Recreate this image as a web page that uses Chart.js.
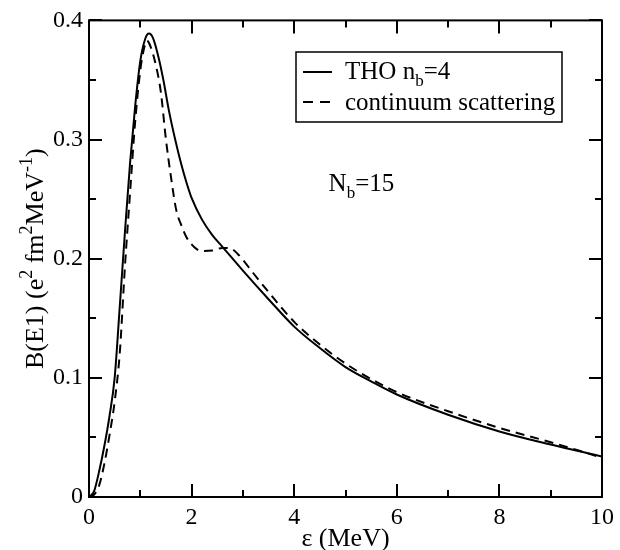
<!DOCTYPE html>
<html>
<head>
<meta charset="utf-8">
<script src="https://cdn.jsdelivr.net/npm/chart.js@4.4.1/dist/chart.umd.min.js"></script>
<style>
  html, body { margin: 0; padding: 0; background: #fff; }
  #wrap { width: 620px; height: 550px; }
</style>
</head>
<body>
<div id="wrap"><canvas id="c" width="620" height="550"></canvas></div>
<script>
// Excitation energy (MeV) and B(E1) distribution, THO basis with n_b = 4
const thoE = [0, 0.1, 0.2, 0.3, 0.4, 0.5, 0.6, 0.7, 0.8, 0.9, 1.0, 1.1, 1.17, 1.25, 1.35, 1.45, 1.55, 1.68, 1.8, 1.9, 2.0, 2.2, 2.4, 2.6, 2.8, 3.0, 3.5, 4.0, 4.5, 5.0, 5.5, 6.0, 7.0, 8.0, 9.0, 10.0];
const thoB = [0, 0.005, 0.022, 0.043, 0.068, 0.1, 0.16, 0.222, 0.28, 0.328, 0.366, 0.385, 0.389, 0.385, 0.37, 0.35, 0.326, 0.300, 0.279, 0.264, 0.251, 0.233, 0.220, 0.210, 0.200, 0.190, 0.166, 0.143, 0.125, 0.109, 0.097, 0.086, 0.069, 0.055, 0.044, 0.034];

// Same distribution from continuum scattering states
const contE = [0, 0.1, 0.2, 0.3, 0.4, 0.5, 0.6, 0.7, 0.8, 0.9, 1.0, 1.07, 1.13, 1.2, 1.3, 1.4, 1.5, 1.6, 1.7, 1.8, 1.9, 2.0, 2.1, 2.2, 2.4, 2.6, 2.75, 2.9, 3.0, 3.2, 3.5, 4.0, 4.5, 5.0, 5.5, 6.0, 7.0, 8.0, 9.0, 10.0];
const contB = [0, 0.002, 0.01, 0.028, 0.052, 0.08, 0.121, 0.193, 0.255, 0.315, 0.358, 0.376, 0.383, 0.378, 0.363, 0.34, 0.3, 0.268, 0.241, 0.228, 0.218, 0.212, 0.208, 0.2065, 0.2068, 0.209, 0.2088, 0.204, 0.199, 0.188, 0.172, 0.147, 0.128, 0.112, 0.099, 0.088, 0.072, 0.058, 0.046, 0.033];

// Axis ranges and tick labels
const xTicks = [0, 2, 4, 6, 8, 10];
const yTicks = [0, 0.1, 0.2, 0.3, 0.4];
const yTickLabels = ['0', '0.1', '0.2', '0.3', '0.4'];

const seriesNames = ['THO n_b=4', 'continuum scattering'];

const SERIF = '"Liberation Serif", "Times New Roman", serif';

function pts(xs, ys) { return xs.map((x, i) => ({ x: x, y: ys[i] })); }

// Draw text made of normal / subscript / superscript pieces
function richWidth(ctx, parts, size) {
  let w = 0;
  parts.forEach(p => {
    ctx.font = ((p.sub || p.sup) ? Math.round(size * 0.68) : size) + 'px ' + SERIF;
    w += ctx.measureText(p.t).width;
  });
  return w;
}
function drawRich(ctx, parts, x, y, size, align) {
  let cx = x;
  if (align === 'center') cx = x - richWidth(ctx, parts, size) / 2;
  ctx.textAlign = 'left';
  ctx.textBaseline = 'alphabetic';
  parts.forEach(p => {
    const s = (p.sub || p.sup) ? Math.round(size * 0.68) : size;
    ctx.font = s + 'px ' + SERIF;
    const dy = p.sub ? size * 0.28 : (p.sup ? -size * 0.42 : 0);
    ctx.fillText(p.t, cx, y + dy);
    cx += ctx.measureText(p.t).width;
  });
}

const framePlugin = {
  id: 'framePlugin',
  afterDatasetsDraw(chart) {
    const ctx = chart.ctx;
    const a = chart.chartArea;
    const xs = chart.scales.x, ys = chart.scales.y;
    ctx.save();
    ctx.strokeStyle = '#000';
    ctx.fillStyle = '#000';
    ctx.lineWidth = 2;
    ctx.lineCap = 'butt';

    // frame
    ctx.strokeRect(a.left, a.top, a.right - a.left, a.bottom - a.top);

    // inward ticks on all four sides
    const major = 13, minor = 7;
    ctx.beginPath();
    for (let v = 0; v <= 10; v += 1) {
      const px = Math.round(xs.getPixelForValue(v));
      const len = (v % 2 === 0) ? major : minor;
      ctx.moveTo(px, a.bottom); ctx.lineTo(px, a.bottom - len);
      ctx.moveTo(px, a.top); ctx.lineTo(px, a.top + len);
    }
    for (let k = 0; k <= 8; k++) {
      const v = k * 0.05;
      const py = Math.round(ys.getPixelForValue(v));
      const len = (k % 2 === 0) ? major : minor;
      ctx.moveTo(a.left, py); ctx.lineTo(a.left + len, py);
      ctx.moveTo(a.right, py); ctx.lineTo(a.right - len, py);
    }
    ctx.stroke();

    // legend box
    const lx = 296, ly = 52, lw = 266, lh = 70;
    ctx.lineWidth = 1.5;
    ctx.strokeRect(lx, ly, lw, lh);
    ctx.lineWidth = 2;
    ctx.beginPath();
    ctx.moveTo(303, 72); ctx.lineTo(332, 72);
    ctx.stroke();
    ctx.setLineDash([10, 7]);
    ctx.beginPath();
    ctx.moveTo(303, 102); ctx.lineTo(331, 102);
    ctx.stroke();
    ctx.setLineDash([]);
    drawRich(ctx, [{ t: 'THO n' }, { t: 'b', sub: true }, { t: '=4' }], 345, 79, 25, 'left');
    drawRich(ctx, [{ t: seriesNames[1] }], 345, 110, 25, 'left');

    // basis size annotation
    drawRich(ctx, [{ t: 'N' }, { t: 'b', sub: true }, { t: '=15' }],
      xs.getPixelForValue(4.67), ys.getPixelForValue(0.257), 25, 'left');

    // axis titles
    drawRich(ctx, [{ t: 'ε (MeV)' }], (a.left + a.right) / 2, 546, 26, 'center');
    ctx.save();
    ctx.translate(43, (a.top + a.bottom) / 2);
    ctx.rotate(-Math.PI / 2);
    drawRich(ctx, [
      { t: 'B(E1) (e' }, { t: '2', sup: true }, { t: ' fm' }, { t: '2', sup: true },
      { t: 'MeV' }, { t: '-1', sup: true }, { t: ')' }
    ], 0, 0, 26, 'center');
    ctx.restore();

    ctx.restore();
  }
};

new Chart(document.getElementById('c'), {
  type: 'scatter',
  data: {
    datasets: [
      {
        label: seriesNames[0],
        data: pts(thoE, thoB),
        showLine: true,
        borderColor: '#000',
        borderWidth: 2,
        pointRadius: 0,
        cubicInterpolationMode: 'monotone'
      },
      {
        label: seriesNames[1],
        data: pts(contE, contB),
        showLine: true,
        borderColor: '#000',
        borderWidth: 2,
        borderDash: [9, 6],
        pointRadius: 0,
        cubicInterpolationMode: 'monotone'
      }
    ]
  },
  options: {
    responsive: false,
    animation: false,
    devicePixelRatio: 1,
    layout: { padding: { left: 0, right: 15, top: 16, bottom: 0 } },
    plugins: { legend: { display: false }, tooltip: { enabled: false } },
    scales: {
      x: {
        type: 'linear',
        min: 0, max: 10,
        afterFit(s) { s.height = 53; },
        afterBuildTicks(s) { s.ticks = xTicks.map(v => ({ value: v })); },
        grid: { display: false, drawTicks: false },
        border: { display: false },
        ticks: {
          padding: 6,
          color: '#000',
          font: { family: SERIF, size: 24 },
          callback: v => String(v),
          maxRotation: 0
        }
      },
      y: {
        type: 'linear',
        min: 0, max: 0.4,
        afterFit(s) { s.width = 89; },
        afterBuildTicks(s) { s.ticks = yTicks.map(v => ({ value: v })); },
        grid: { display: false, drawTicks: false },
        border: { display: false },
        ticks: {
          padding: 6,
          color: '#000',
          font: { family: SERIF, size: 24 },
          callback: (v) => yTickLabels[yTicks.indexOf(v)] ?? ''
        }
      }
    }
  },
  plugins: [framePlugin]
});
</script>
</body>
</html>
